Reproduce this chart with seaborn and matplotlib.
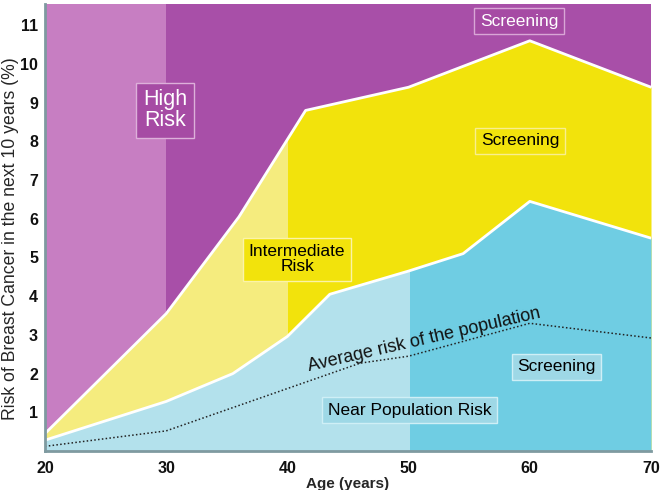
import matplotlib
matplotlib.use("Agg")
import matplotlib.pyplot as plt
import matplotlib.patches as mpatches
import seaborn as sns
import pandas as pd

# Boundaries
top_age = [20, 30, 36, 41.5, 50, 60, 70]
top_risk = [0.45, 3.55, 6.05, 8.8, 9.4, 10.6, 9.4]

mid_age = [20, 30, 35.5, 40, 43.5, 50, 54.5, 60, 70]
mid_risk = [0.28, 1.28, 2.0, 2.96, 4.05, 4.65, 5.1, 6.45, 5.5]

avg_age = [20, 30, 46, 50, 60, 70]
avg_risk = [0.12, 0.52, 2.27, 2.45, 3.3, 2.92]

# age at which screening starts for each risk group (lighter shade before it)
cut_high = 30
cut_mid = 40
cut_low = 50

x_ticks = [20, 30, 40, 50, 60, 70]
y_ticks = [1, 2, 3, 4, 5, 6, 7, 8, 9, 10, 11]
y_max = 11.55

purple, purple_light = "#A84FA8", "#C77EC2"
yellow, yellow_light = "#F2E30C", "#F5EC7E"
blue, blue_light = "#6FCDE3", "#B3E1EC"
spine_col = "#7F9AA0"

sns.set_style("white")
plt.rcParams["font.family"] = ["Liberation Sans", "DejaVu Sans"]

fig = plt.figure(figsize=(6.62, 4.9), dpi=100)
ax = fig.add_axes([45 / 662, 39 / 490, 606 / 662, 447 / 490])
ax.set_xlim(20, 70)
ax.set_ylim(0, y_max)

# high risk zone = background
ax.set_facecolor(purple)
ax.axvspan(20, cut_high, color=purple_light, lw=0, zorder=0)


def shaded(xs, ys, dark, light, cut, z):
    ax.fill_between(xs, 0, ys, color=dark, lw=0, zorder=z)
    p = ax.fill_between(xs, 0, ys, color=light, lw=0, zorder=z)
    clip = mpatches.Rectangle((20, 0), cut - 20, y_max, transform=ax.transData)
    p.set_clip_path(clip)


shaded(top_age, top_risk, yellow, yellow_light, cut_mid, 1)
shaded(mid_age, mid_risk, blue, blue_light, cut_low, 2)

top_df = pd.DataFrame({"age": top_age, "risk": top_risk})
mid_df = pd.DataFrame({"age": mid_age, "risk": mid_risk})
avg_df = pd.DataFrame({"age": avg_age, "risk": avg_risk})

sns.lineplot(data=top_df, x="age", y="risk", color="white", lw=2, ax=ax, zorder=3)
sns.lineplot(data=mid_df, x="age", y="risk", color="white", lw=2, ax=ax, zorder=3)
sns.lineplot(data=avg_df, x="age", y="risk", color="#222222", lw=1.1,
             linestyle=(0, (1, 1.5)), ax=ax, zorder=3)


def label(x, y, txt, fc, ec, tc, size, pad=0.35):
    ax.text(x, y, txt, ha="center", va="center", fontsize=size, color=tc,
            linespacing=1.0, zorder=5,
            bbox=dict(boxstyle=f"square,pad={pad}", fc=fc, ec=ec, lw=1))


label(29.9, 8.8, "High\nRisk", "#A64BA4", "#DDB0DA", "white", 15.5, pad=0.32)
label(59.1, 11.1, "Screening", "#A64BA4", "#D9A6D6", "white", 12.5, pad=0.32)
label(59.2, 8.02, "Screening", yellow, "#F8EE90", "black", 12.5, pad=0.32)
label(40.8, 4.95, "Intermediate\nRisk", yellow, "#FBF3A8", "black", 12.5, pad=0.35)
label(62.2, 2.18, "Screening", "#9ED8E6", "#CFEFF6", "black", 12.5, pad=0.32)
label(50.1, 1.05, "Near Population Risk", "#9ED8E6", "#CFEFF6", "black", 12.5, pad=0.32)

ax.text(51.3, 2.88, "Average risk of the population", rotation=13,
        ha="center", va="center", fontsize=13, color="#111111", zorder=5)

ax.set_xticks(x_ticks)
ax.set_yticks(y_ticks)
ax.tick_params(axis="both", colors=spine_col, labelcolor="#111111",
               labelsize=11.5, direction="out")
ax.tick_params(axis="x", length=5, width=1.5, pad=2)
ax.tick_params(axis="y", length=3, width=1.5, pad=2)
for t in ax.get_xticklabels() + ax.get_yticklabels():
    t.set_fontweight("bold")

for s in ["top", "right"]:
    ax.spines[s].set_visible(False)
for s in ["left", "bottom"]:
    ax.spines[s].set_color(spine_col)
    ax.spines[s].set_linewidth(2)
    ax.spines[s].set_zorder(6)

ax.set_xlabel("Age (years)", fontsize=11, fontweight="bold", labelpad=1)
ax.set_ylabel("Risk of Breast Cancer in the next 10 years (%)", fontsize=12.7)
ax.yaxis.set_label_coords(-0.043, 0.475)

fig.savefig("out.png", dpi=100)
